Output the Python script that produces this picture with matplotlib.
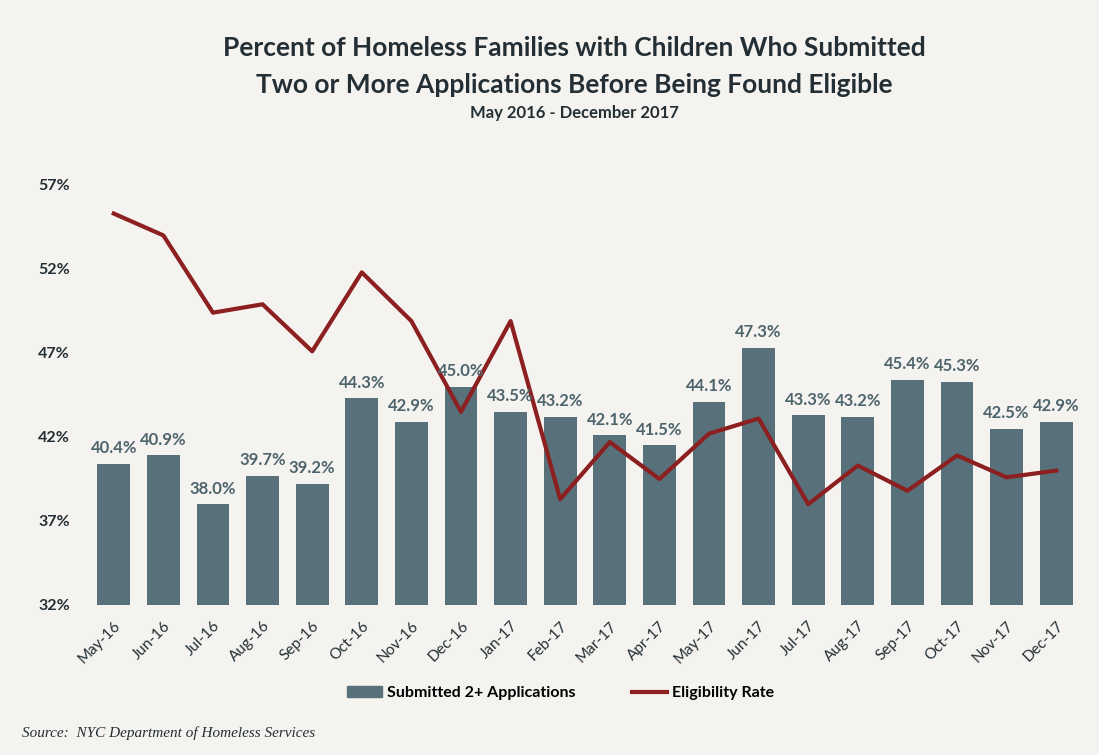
import matplotlib
matplotlib.use("Agg")
import matplotlib.pyplot as plt
from matplotlib.patches import Patch
from matplotlib.lines import Line2D

months = ["May-16", "Jun-16", "Jul-16", "Aug-16", "Sep-16", "Oct-16", "Nov-16",
          "Dec-16", "Jan-17", "Feb-17", "Mar-17", "Apr-17", "May-17", "Jun-17",
          "Jul-17", "Aug-17", "Sep-17", "Oct-17", "Nov-17", "Dec-17"]
submitted = [40.4, 40.9, 38.0, 39.7, 39.2, 44.3, 42.9, 45.0, 43.5, 43.2,
             42.1, 41.5, 44.1, 47.3, 43.3, 43.2, 45.4, 45.3, 42.5, 42.9]
eligibility = [55.3, 54.0, 49.4, 49.9, 47.1, 51.8, 48.9, 43.5, 48.9, 38.3,
               41.7, 39.5, 42.2, 43.1, 38.0, 40.3, 38.8, 40.9, 39.6, 40.0]
yticks = [32, 37, 42, 47, 52, 57]

bg = "#f5f3ef"
bar_color = "#57707a"
line_color = "#8c1f1f"
text_color = "#232f35"
label_color = "#4d646d"

plt.rcParams["font.family"] = ["Lato", "DejaVu Sans"]

fig = plt.figure(figsize=(10.99, 7.55), dpi=100, facecolor=bg)
ax = fig.add_axes([84 / 1099, 150 / 755, 1002 / 1099, 420 / 755])
ax.set_facecolor(bg)

x = list(range(len(months)))
ax.bar(x, submitted, width=0.66, bottom=0, color=bar_color, zorder=2)
ax.plot(x, eligibility, color=line_color, lw=3, zorder=3)

for xi, v in zip(x, submitted):
    ax.text(xi, v + 0.45, f"{v:.1f}%", ha="center", va="bottom",
            fontsize=12, fontweight="bold", color=label_color, zorder=4)

ax.set_ylim(32, 57)
ax.set_xlim(-0.6, 19.6)
ax.set_yticks(yticks)
ax.set_yticklabels([f"{t}%" for t in yticks], fontsize=11.5, fontweight="bold",
                   color=text_color)
ax.set_xticks(x)
ax.set_xticklabels(months, rotation=45, ha="right", rotation_mode="anchor",
                   fontsize=11, color=text_color)
ax.tick_params(length=0)
ax.tick_params(axis="x", pad=10)
ax.tick_params(axis="y", pad=10)
for s in ax.spines.values():
    s.set_visible(False)

fig.text(0.523, 0.936, "Percent of Homeless Families with Children Who Submitted",
         ha="center", va="center", fontsize=19, fontweight="bold", color=text_color)
fig.text(0.523, 0.887, "Two or More Applications Before Being Found Eligible",
         ha="center", va="center", fontsize=19, fontweight="bold", color=text_color)
fig.text(0.523, 0.850, "May 2016 - December 2017",
         ha="center", va="center", fontsize=12, fontweight="bold", color=text_color)

handles = [Patch(color=bar_color, label="Submitted 2+ Applications"),
           Line2D([0], [0], color=line_color, lw=3, label="Eligibility Rate")]
fig.legend(handles=handles, loc="center", bbox_to_anchor=(0.51, 0.082), ncol=2,
           frameon=False, columnspacing=3.5, handlelength=2.2,
           handletextpad=0.3, prop={"weight": "bold", "size": 11.5})

fig.text(0.02, 0.02, "Source:  NYC Department of Homeless Services", ha="left",
         va="bottom", fontsize=11, style="italic", family="Liberation Serif",
         color=text_color)

fig.savefig("out.png", dpi=100, facecolor=bg)
